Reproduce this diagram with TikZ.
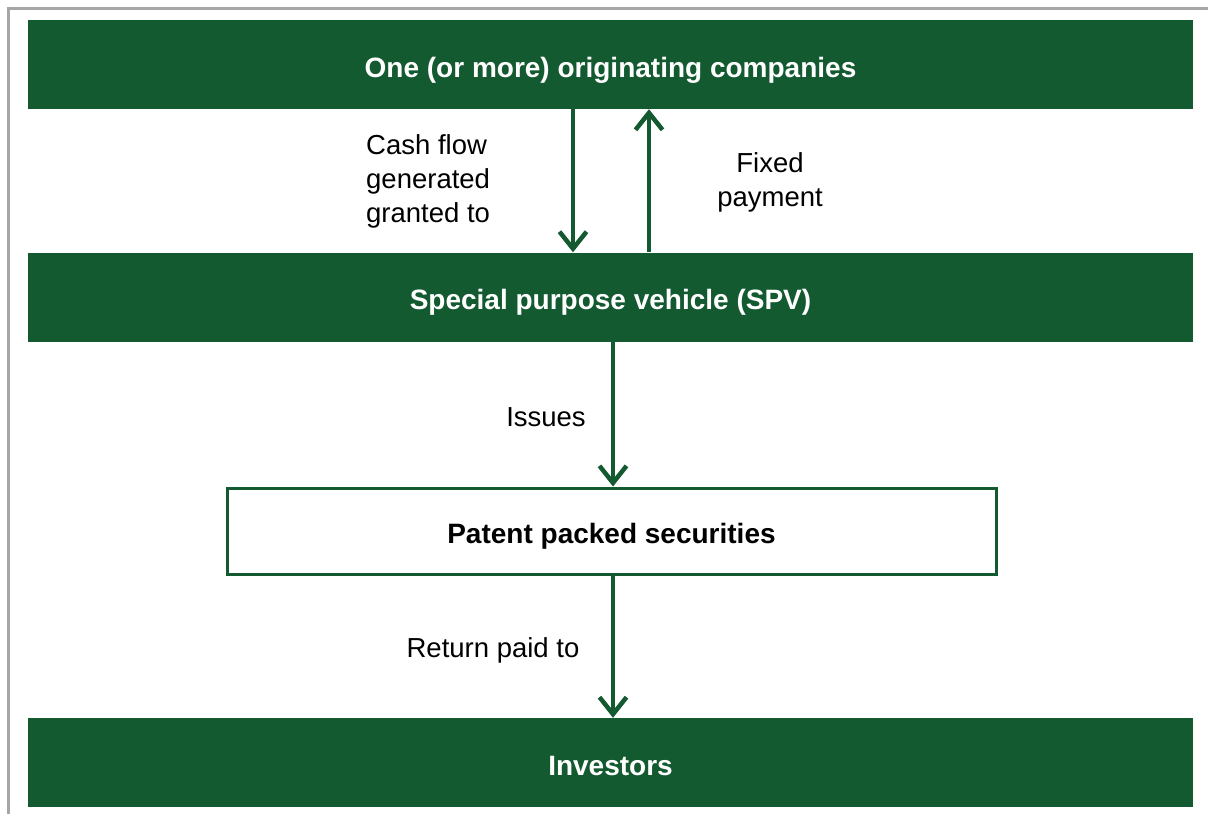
\documentclass[tikz,border=0pt]{standalone}
\usepackage{fontspec}
\setmainfont{Liberation Sans}
\usetikzlibrary{arrows.meta}
\definecolor{dgreen}{HTML}{135A30}
\definecolor{fgray}{HTML}{A6A6A6}
\tikzset{
  gbox/.style={fill=dgreen, draw=none, minimum width=1165pt, minimum height=89pt, inner sep=0pt, text height=25pt, text depth=0pt, text=white, font=\fontsize{28}{34}\selectfont\bfseries},
  wbox/.style={fill=white, draw=dgreen, line width=3pt, minimum width=769pt, minimum height=86pt, inner sep=0pt, text height=25pt, text depth=0pt, text=black, font=\fontsize{28}{34}\selectfont\bfseries},
  flow/.style={draw=dgreen, line width=4.5pt, -{Straight Barb[length=17pt,width=27pt]}},
  lbl/.style={font=\fontsize{27.5}{34}\selectfont, inner sep=0pt}
}
\begin{document}
\begin{tikzpicture}[x=1pt,y=-1pt]
\useasboundingbox (0,0) rectangle (1208,814);
\draw[fgray, line width=3pt] (8.5,814) -- (8.5,8.5) -- (1208,8.5);
\node[gbox] (top) at (610.5,64.5) {One (or more) originating companies};
\node[gbox] (spv) at (610.5,297) {Special purpose vehicle (SPV)};
\node[wbox] (pps) at (611.5,531) {Patent packed securities};
\node[gbox] (inv) at (610.5,762.5) {Investors};
\draw[flow] ([xshift=-37.5pt]top.south) -- ([xshift=-37.5pt]top.south |- spv.north);
\draw[flow] ([xshift=38.5pt]spv.north) -- ([xshift=38.5pt]spv.north |- top.south);
\draw[flow] ([xshift=2.5pt]spv.south) -- ([xshift=1.5pt]pps.north);
\draw[flow] ([xshift=1.5pt]pps.south) -- ([xshift=2.5pt]inv.north);
\node[lbl, align=left, anchor=west] (cf) at (366,181) {Cash flow\\generated\\granted to};
\node[lbl, align=center] (fp) at (770,182) {Fixed\\payment};
\node[lbl] (is) at (546,417) {Issues};
\node[lbl] (rp) at (493,650) {Return paid to};
\end{tikzpicture}
\end{document}
